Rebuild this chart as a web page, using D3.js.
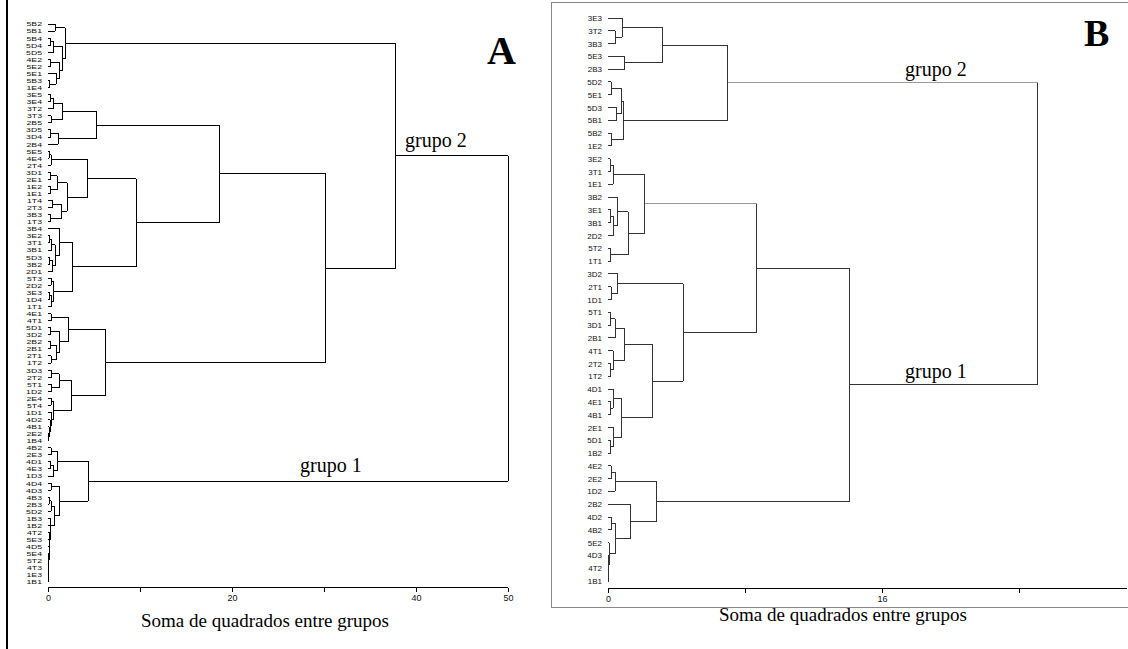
<!DOCTYPE html>
<html>
<head>
<meta charset="utf-8">
<script src="https://cdn.jsdelivr.net/npm/d3@7"></script>
<style>
  body { margin: 0; background: #fff; }
  svg { display: block; }
  .leaf text { font-family: "Liberation Sans", Arial, sans-serif; fill: #111; }
  .tick text { font-family: "Liberation Sans", Arial, sans-serif; fill: #111; }
  .serif { font-family: "Liberation Serif", "Times New Roman", serif; fill: #000; }
</style>
</head>
<body>
<svg id="fig" width="1128" height="649"></svg>
<script>
// Dendrograms: an internal node is [height, childA, childB]; a leaf is its label.
// Leaf order on the axis follows the order in which leaves appear in the tree.

// ---- Panel A ----
const aTop = [1.85,
  [0.8, "5B2", "5B1"],
  [1.6,
    [0.6, [0.3, "5B4", "5D4"], "5D5"],
    [1.3, [0.3, "4E2", "5E2"], [0.9, "5E1", [0.2, "5B3", "1E4"]]]]];
const aN97 = [5.3,
  [1.6, [0.65, [0.3, "3E5", "3E4"], "3T2"], [0.35, "3T3", "2B5"]],
  [1.1, [0.3, "3D5", "3D4"], "2B4"]];
const aN87 = [4.3,
  [0.35, [0.15, "5E5", "4E4"], "2T4"],
  [2.1,
    [1.0, [0.3, "3D1", "2E1"], [0.3, "1E2", "1E1"]],
    [1.5, [0.5, "1T4", "2T3"], [0.3, "3B3", "1T3"]]]];
const aN73 = [2.7,
  [1.3, "3B4", [0.8, [0.4, [0.2, "3E2", "3T1"], "3B1"], [0.5, [0.2, "5D3", "3B2"], "2D1"]]],
  [0.6, [0.35, "5T3", "2D2"], [0.4, [0.2, "3E3", "1D4"], "1T1"]]];
const aN105 = [6.2,
  [2.2, [0.35, "4E1", "4T1"],
        [1.3, [0.3, "5D1", "3D2"], [0.95, [0.3, "2B2", "2B1"], [0.35, "2T1", "1T2"]]]],
  [2.6, [1.2, [0.4, "3D3", "2T2"], [0.4, "5T1", "1D2"]],
        [0.65, [0.35, "2E4", "5T4"],
               [0.4, "1D1", [0.25, "4D2", [0.15, "4B1", [0.1, "2E2", "1B4"]]]]]]];
const aG1 = [4.35,
  [1.0, [0.35, "4B2", "2E3"], [0.65, [0.3, "4D1", "4E3"], "1D3"]],
  [1.3, [0.35, "4D4", "4D3"],
        [0.75, [0.35, [0.15, "4B3", "2B3"], "5D2"],
               [0.3, "1B3", [0.25, "1B2", [0.2, "4T2", [0.16, "5E3", [0.13, "4D5",
                 [0.1, "5E4", [0.08, "5T2", [0.06, "4T3", [0.04, "1E3", "1B1"]]]]]]]]]]]];
const treeA = [50.0, [37.8, aTop, [30.2, [18.6, aN97, [9.6, aN87, aN73]], aN105]], aG1];
const ticksA = [0, 10, 20, 30, 40, 50];
const tickLabelsA = [0, 20, 40, 50];

// ---- Panel B ----
const bNa = [3.21, [0.82, "3E3", [0.41, "3T2", "3B3"]], [0.99, "5E3", "2B3"]];
const bNb = [0.88, [0.78, [0.2, "5D2", "5E1"], [0.5, "5D3", "5B1"]], [0.2, "5B2", "1E2"]];
const bNc1 = [2.16, [0.3, [0.12, "3E2", "3T1"], "1E1"],
  [1.17, [0.53, "3B2", [0.35, [0.15, "3E1", "3B1"], "2D2"]], [0.17, "5T2", "1T1"]]];
const bNc2 = [4.38, [0.58, "3D2", [0.2, "2T1", "1D1"]],
  [2.57, [0.99, [0.41, [0.15, "5T1", "3D1"], "2B1"], [0.3, "4T1", [0.15, "2T2", "1T2"]]],
         [0.8, [0.3, "4D1", [0.15, "4E1", "4B1"]], [0.3, "2E1", [0.15, "5D1", "1B2"]]]]];
const bNd = [2.86, [0.41, [0.2, "4E2", "2E2"], "1D2"],
  [1.34, "2B2", [0.41, [0.2, "4D2", "4B2"], [0.07, "5E2", [0.05, "4D3", [0.03, "4T2", "1B1"]]]]]];
const treeB = [25.1, [7.0, bNa, bNb], [14.13, [8.7, bNc1, bNc2], bNd]];
const ticksB = [0, 8, 16, 24];
const tickLabelsB = [0, 16];

const svg = d3.select("#fig");

// page frames
svg.append("line").attr("x1", 7).attr("x2", 7).attr("y1", 0).attr("y2", 649)
  .attr("stroke", "#000").attr("stroke-width", 2);
svg.append("rect").attr("x", 551.5).attr("y", 2.5).attr("width", 580).attr("height", 605)
  .attr("fill", "none").attr("stroke", "#888").attr("stroke-width", 1);

function drawDendrogram(cfg) {
  const root = d3.hierarchy(cfg.tree, d => Array.isArray(d) ? d.slice(1) : null);
  const leaves = root.leaves().map(d => d.data);
  const x = d3.scaleLinear().domain(cfg.xDomain).range(cfg.xRange);
  const y = d3.scalePoint().domain(leaves).range(cfg.yRange);
  const g = svg.append("g");

  // positions: leaves on the point scale, internal nodes midway between their children
  root.eachAfter(n => {
    n.h = n.children ? n.data[0] : 0;
    n.py = n.children ? (n.children[0].py + n.children[n.children.length - 1].py) / 2 : y(n.data);
  });

  const segs = [];
  root.each(n => {
    if (!n.children) return;
    const nx = x(n.h);
    segs.push({ d: `M${nx},${n.children[0].py}V${n.children[n.children.length - 1].py}`, light: false });
    n.children.forEach(c => segs.push({
      d: `M${x(c.h)},${c.py}H${nx}`,
      light: c.children ? cfg.lightLinks.includes(c.h) : false
    }));
  });
  g.selectAll("path.link").data(segs).join("path")
    .attr("class", "link").attr("d", d => d.d)
    .attr("fill", "none").attr("stroke", d => d.light ? "#9a9a9a" : cfg.stroke)
    .attr("stroke-width", 1)
    .attr("shape-rendering", "crispEdges");

  // leaf labels
  const leafAxis = d3.axisLeft(y).tickSize(0).tickPadding(0);
  const la = g.append("g").attr("class", "leaf")
    .attr("transform", `translate(${cfg.xRange[0] - cfg.labelGap},0)`)
    .call(leafAxis);
  la.select(".domain").remove();
  la.selectAll("text").style("font-size", cfg.leafFont + "px")
    .attr("transform", `scale(${cfg.leafStretch},1)`);

  // value axis
  const ax = d3.axisBottom(x).tickValues(cfg.ticks)
    .tickFormat(d => cfg.tickLabels.includes(d) ? d : "").tickSize(4).tickPadding(3);
  const axg = g.append("g").attr("transform", `translate(0,${cfg.axisY})`).call(ax);
  axg.select(".domain").attr("d", `M${cfg.xRange[0]},0H${cfg.axisEnd}`).attr("stroke", "#000")
    .attr("shape-rendering", "crispEdges");
  axg.selectAll(".tick line").attr("stroke", "#000").attr("shape-rendering", "crispEdges");
  axg.selectAll(".tick text").style("font-size", "9px");

  // axis title
  g.append("text").attr("class", "serif").attr("x", cfg.titleX).attr("y", cfg.titleY)
    .attr("text-anchor", "middle").style("font-size", "19px")
    .text("Soma de quadrados entre grupos");

  // panel letter
  g.append("text").attr("class", "serif").attr("x", cfg.letter.x).attr("y", cfg.letter.y)
    .style("font-size", cfg.letter.size + "px").style("font-weight", "bold").text(cfg.letter.t);

  // group names
  cfg.groups.forEach(gr => g.append("text").attr("class", "serif")
    .attr("x", gr.x).attr("y", gr.y).style("font-size", "20px").text(gr.t));
}

drawDendrogram({
  tree: treeA, xDomain: [0, 50], xRange: [48, 508], yRange: [24, 582],
  ticks: ticksA, tickLabels: tickLabelsA, axisY: 587.5, axisEnd: 508,
  stroke: "#000", lightLinks: [], labelGap: 6, leafFont: 6, leafStretch: 1.45,
  titleX: 265, titleY: 627,
  letter: { t: "A", x: 487, y: 64, size: 40 },
  groups: [{ t: "grupo 2", x: 405, y: 147 }, { t: "grupo 1", x: 300, y: 472 }]
});

drawDendrogram({
  tree: treeB, xDomain: [0, 16], xRange: [608, 882], yRange: [18, 581],
  ticks: ticksB, tickLabels: tickLabelsB, axisY: 588.5, axisEnd: 1127,
  stroke: "#333", lightLinks: [7.0, 2.16], labelGap: 6, leafFont: 8, leafStretch: 1,
  titleX: 843, titleY: 621,
  letter: { t: "B", x: 1084, y: 46, size: 38 },
  groups: [{ t: "grupo 2", x: 905, y: 76 }, { t: "grupo 1", x: 905, y: 378 }]
});
</script>
</body>
</html>
